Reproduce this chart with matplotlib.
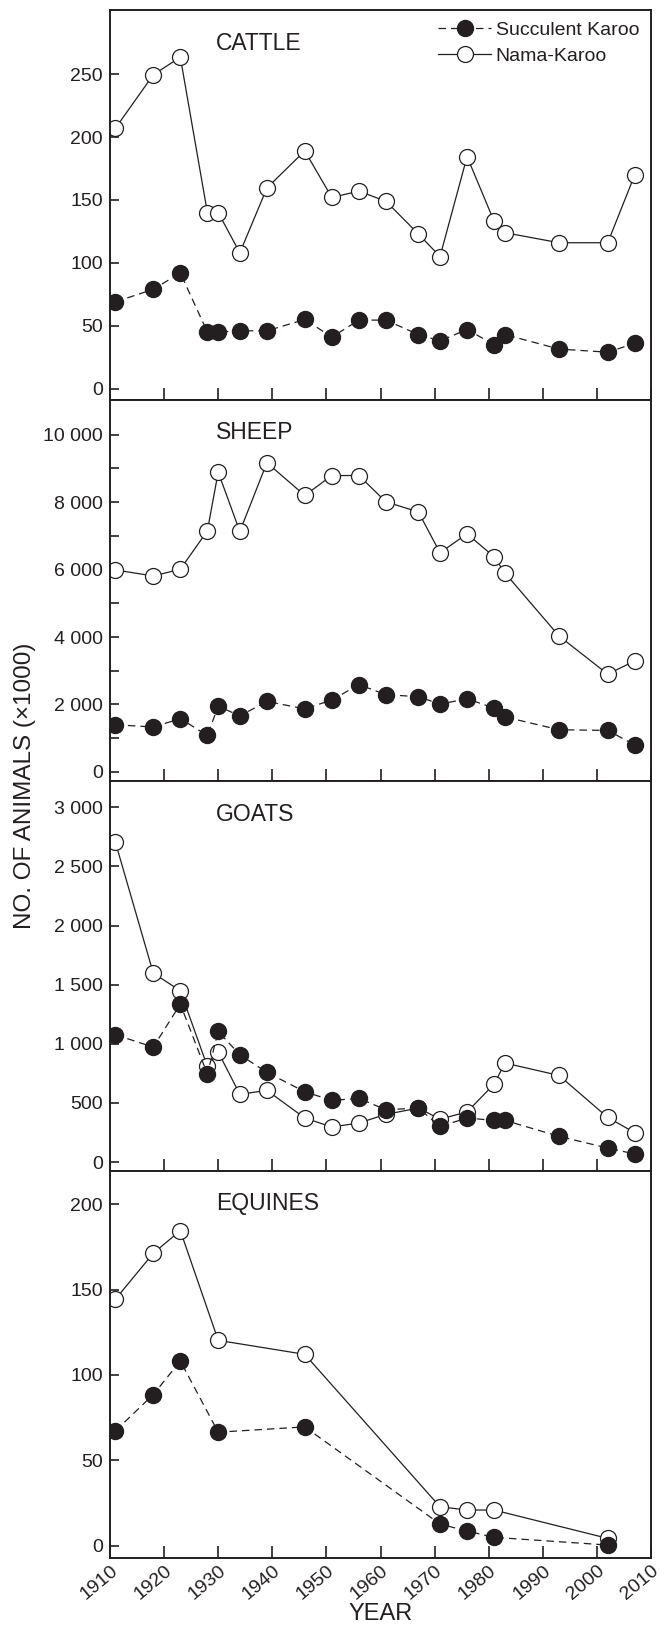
import matplotlib
matplotlib.use('Agg')
import matplotlib.pyplot as plt

plt.rcParams['font.family'] = ['Liberation Sans', 'DejaVu Sans']

# census years
years = [1911, 1918, 1923, 1928, 1930, 1934, 1939, 1946, 1951, 1956,
         1961, 1967, 1971, 1976, 1981, 1983, 1993, 2002, 2007]
years_eq = [1911, 1918, 1923, 1930, 1946, 1971, 1976, 1981, 2002]

# values (x1000) - Succulent Karoo (sk) / Nama-Karoo (nk)
cattle_sk = [69, 79, 92, 45, 45, 46, 46, 55, 41, 54.5, 54.5, 43, 38, 47, 35, 43, 31.5, 29, 36]
cattle_nk = [207, 249.5, 263.5, 140, 140, 108, 159.5, 189, 152, 157, 149, 123, 105, 184.5, 133, 124, 116, 116, 170]

sheep_sk = [1400, 1330, 1580, 1080, 1950, 1660, 2090, 1870, 2130, 2590, 2290, 2230, 2010, 2170, 1890, 1630, 1250, 1230, 800]
sheep_nk = [5990, 5810, 6010, 7150, 8890, 7130, 9170, 8200, 8790, 8790, 8010, 7710, 6500, 7060, 6380, 5900, 4030, 2900, 3290]

goats_sk = [1076, 972, 1335, 744, 1104, 907, 758, 594, 521, 538, 442, 456, 301, 372, 352, 352, 217, 118, 68]
goats_nk = [2704, 1597, 1448, 808, 930, 572, 606, 372, 296, 330, 403, 456, 363, 423, 659, 837, 732, 377, 248]

equines_sk = [67.3, 88.5, 108.2, 66.5, 69.6, 12.7, 8.6, 4.9, 0.4]
equines_nk = [144.4, 171.3, 184.6, 120.3, 112.1, 22.8, 20.9, 20.9, 4.3]

cattle_ticks = [0, 50, 100, 150, 200, 250]
sheep_ticks = [0, 2000, 4000, 6000, 8000, 10000]
sheep_minor = [1000, 3000, 5000, 7000, 9000]
goats_ticks = [0, 500, 1000, 1500, 2000, 2500, 3000]
equines_ticks = [0, 50, 100, 150, 200]
x_ticks = list(range(1910, 2011, 10))

ink = '#231f20'

def fmt(v):
    return f'{v:,}'.replace(',', ' ')

fig = plt.figure(figsize=(6.67, 16.30), dpi=100)

left, width = 110/667, 541/667
panels = [
    # name, bottom, height, sk, nk, x, ylim, ticks
    ('CATTLE', 1-400/1630, 390/1630, cattle_sk, cattle_nk, years, (-9, 301), cattle_ticks),
    ('SHEEP', 1-781/1630, 381/1630, sheep_sk, sheep_nk, years, (-270, 11030), sheep_ticks),
    ('GOATS', 1-1171/1630, 390/1630, goats_sk, goats_nk, years, (-76, 3222), goats_ticks),
    ('EQUINES', 1-1558/1630, 387/1630, equines_sk, equines_nk, years_eq, (-7.2, 219.5), equines_ticks),
]

axes = []
for name, bottom, height, sk, nk, x, ylim, ticks in panels:
    ax = fig.add_axes([left, bottom, width, height])
    l_nk, = ax.plot(x, nk, color=ink, lw=0.9, marker='o', ms=11.5,
                    mfc='white', mec=ink, mew=0.9, label='Nama-Karoo')
    l_sk, = ax.plot(x, sk, color=ink, lw=0.9, ls=(0, (6, 4)), marker='o', ms=11.5,
                    mfc=ink, mec=ink, label='Succulent Karoo')
    ax.set_xlim(1910, 2010)
    ax.set_ylim(*ylim)
    ax.set_yticks(ticks)
    ax.set_yticklabels([fmt(t) for t in ticks])
    ax.set_xticks(x_ticks)
    ax.tick_params(axis='y', direction='in', length=6.7, width=1.2, color=ink,
                   labelsize=14, labelcolor=ink, pad=5)
    ax.tick_params(axis='x', direction='in', length=8.4, width=1.2, color=ink,
                   labelsize=14, labelcolor=ink, pad=3)
    for s in ax.spines.values():
        s.set_linewidth(1.4)
        s.set_color(ink)
    ax.text(0.196, 0.915, name, transform=ax.transAxes, fontsize=16.5,
            color=ink, va='center', ha='left')
    if name == 'SHEEP':
        ax.set_yticks(sheep_minor, minor=True)
        ax.tick_params(which='minor', direction='in', length=6.7, width=1.2, color=ink)
    if name == 'CATTLE':
        ax.legend([l_sk, l_nk], ['Succulent Karoo', 'Nama-Karoo'], loc='upper right',
                  frameon=False, fontsize=14, handlelength=2.7, handletextpad=0.25,
                  borderaxespad=0.3, borderpad=0.3, labelspacing=0.4, labelcolor=ink)
    axes.append(ax)

for ax in axes[:-1]:
    ax.set_xticklabels([])

axes[-1].set_xticklabels([str(t) for t in x_ticks], rotation=40,
                         ha='right', va='top', rotation_mode='anchor')
axes[-1].set_xlabel('YEAR', fontsize=17, color=ink, labelpad=0)

fig.text(25/667, 1-786/1630, 'NO. OF ANIMALS (\u00d71000)', rotation=90,
         fontsize=17.5, color=ink, ha='center', va='center')

fig.savefig('out.png', dpi=100)
